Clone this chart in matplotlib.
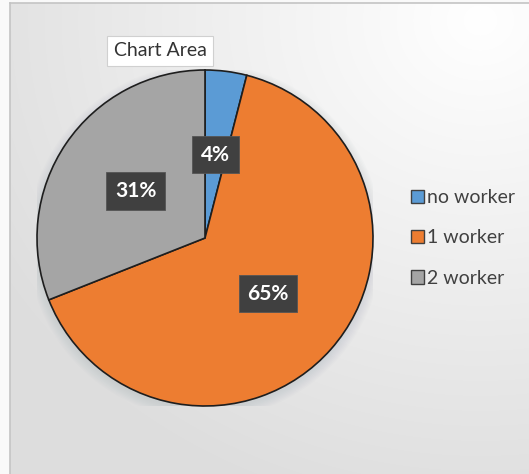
import matplotlib.pyplot as plt
import matplotlib.patches as mpatches
import numpy as np

# household workers share
labels = ['no worker', '1 worker', '2 worker']
shares = [4, 65, 31]
colors = ['#5b9bd5', '#ed7d31', '#a5a5a5']

plt.rcParams['font.family'] = ['Lato', 'DejaVu Sans']

W, H = 529, 474
fig = plt.figure(figsize=(W / 100, H / 100), dpi=100)

# background: soft radial gradient, light at top right, gray towards the bottom
bg = fig.add_axes([0, 0, 1, 1])
yy, xx = np.mgrid[0:H, 0:W]
d = np.sqrt(((xx - 480) / 529.0) ** 2 + ((yy - 20) / 474.0) ** 2)
shade = 1.0 - 0.13 * np.clip(d / 1.05, 0, 1)
img = np.dstack([shade, shade, shade])
img[:, :10] = 0.98
img[:3, :] = 0.98
bg.imshow(img, extent=[0, W, H, 0], aspect='auto', interpolation='bilinear')
bg.plot([10, 10], [3, H], color='#c4c4c4', lw=1.2)
bg.plot([10, W], [3, 3], color='#c4c4c4', lw=1.2)
bg.set_xlim(0, W)
bg.set_ylim(H, 0)
bg.axis('off')

# pie axes
cx, cy, r = 205, 238, 168
ax = fig.add_axes([(cx - r) / W, (H - cy - r) / H, 2 * r / W, 2 * r / H])

# soft shadow under the pie
for i in range(8):
    ax.add_patch(mpatches.Circle((0.0, -0.02), 1.0 + 0.008 * i,
                                 color='#9aa4b0', alpha=0.035, lw=0, zorder=0))

wedges, texts, autotexts = ax.pie(
    shares, colors=colors, startangle=90, counterclock=False,
    autopct='%1.0f%%', pctdistance=0.5, radius=1.0,
    wedgeprops=dict(edgecolor='#1e1e1e', linewidth=1.2),
    textprops=dict(color='white', fontsize=15, fontweight='bold'))
for w in wedges:
    w.set_zorder(2)
for t in autotexts:
    t.set_zorder(5)
    t.set_bbox(dict(boxstyle='square,pad=0.42', facecolor='#404040',
                    edgecolor='#555555', linewidth=0.6))
ax.set_xlim(-1.0, 1.0)
ax.set_ylim(-1.0, 1.0)
ax.set_aspect('equal')
ax.axis('off')

# legend
handles = [mpatches.Patch(facecolor=c, edgecolor='#404040', linewidth=1.0)
           for c in colors]
fig.legend(handles, labels, loc='upper left', bbox_to_anchor=(411 / W, 1 - 189 / H),
           frameon=False, fontsize=14, labelcolor='#404040',
           handlelength=0.68, handleheight=0.68, handletextpad=0.15,
           labelspacing=1.2, borderaxespad=0, borderpad=0)

# hover tag in the top left corner
fig.text(160 / W, 1 - 51 / H, 'Chart Area', ha='center', va='center',
         fontsize=14, color='#333333',
         bbox=dict(boxstyle='square,pad=0.32', facecolor='white',
                   edgecolor='#d0d0d0', linewidth=0.8))

fig.savefig('out.png', dpi=100)
